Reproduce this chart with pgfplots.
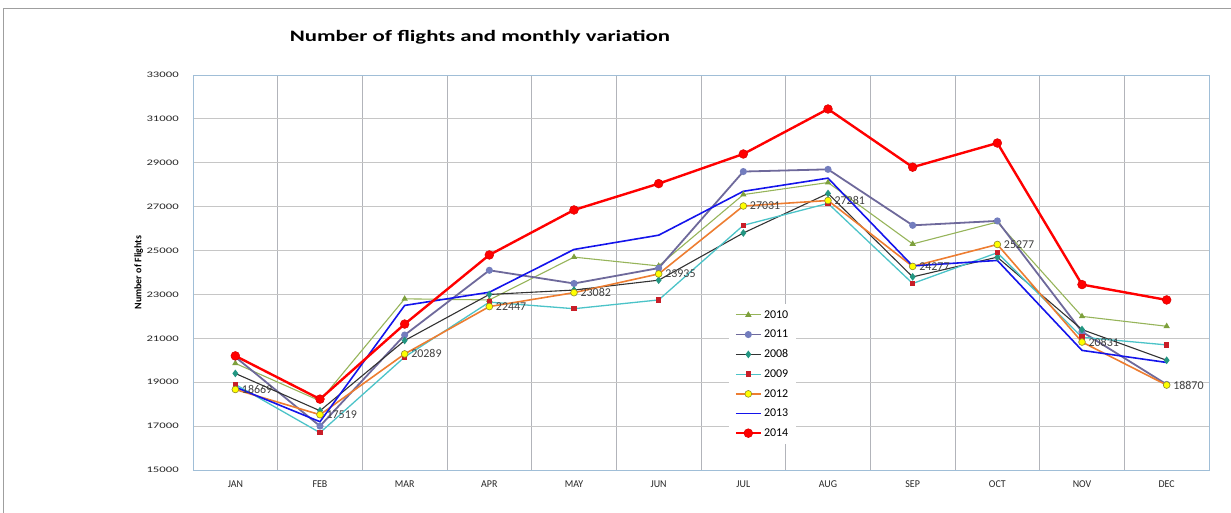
\documentclass[border=0pt]{standalone}
\usepackage{pgfplots}
\pgfplotsset{compat=1.18}
\usepackage{fontspec}
\setmainfont{Carlito}

\definecolor{c2010}{RGB}{150,180,90}
\definecolor{c2010m}{RGB}{125,160,60}
\definecolor{c2011}{RGB}{110,105,155}
\definecolor{c2011m}{RGB}{115,125,190}
\definecolor{c2008}{RGB}{50,50,50}
\definecolor{c2008m}{RGB}{35,150,130}
\definecolor{c2009}{RGB}{75,195,200}
\definecolor{c2009m}{RGB}{200,30,40}
\definecolor{c2012}{RGB}{237,125,49}
\definecolor{c2012m}{RGB}{255,255,0}
\definecolor{c2013}{RGB}{20,20,235}
\definecolor{c2014}{RGB}{255,0,0}
\definecolor{gridh}{RGB}{198,198,198}
\definecolor{gridv}{RGB}{178,180,186}
\definecolor{frame}{RGB}{160,190,215}

\pgfplotstableread{
x y2010 y2011 y2008 y2009 y2012 y2013 y2014
0 19860 20150 19400 18900 18669 18780 20200
1 18150 17000 17700 16700 17519 17200 18230
2 22800 21150 20900 20150 20289 22500 21650
3 22750 24100 23000 22650 22447 23100 24800
4 24700 23500 23200 22350 23082 25050 26850
5 24300 24200 23650 22750 23935 25700 28050
6 27550 28600 25800 26150 27031 27700 29400
7 28100 28700 27600 27150 27281 28300 31450
8 25300 26150 23800 23500 24277 24300 28800
9 26300 26350 24700 24900 25277 24550 29900
10 22000 21300 21400 21050 20831 20450 23450
11 21550 18900 20000 20700 18870 19900 22750
}\flights

\begin{document}
\begin{tikzpicture}
\path[use as bounding box] (-193bp,-43bp) rectangle (1038bp,470bp);
\draw[gray!75, line width=1bp] (-189bp,-60bp) -- (-189bp,461bp) -- (1060bp,461bp);
\node[font=\bfseries\fontsize{16}{19}\selectfont, xscale=1.43] at (287bp,433bp) {Number of flights and monthly variation};
\begin{axis}[
  at={(0,0)}, anchor=south west,
  scale only axis, width=1016bp, height=395bp,
  xmin=-0.5, xmax=11.5, ymin=15000, ymax=33000,
  xtick={0,...,11},
  xticklabels={JAN,FEB,MAR,APR,MAY,JUN,JUL,AUG,SEP,OCT,NOV,DEC},
  minor xtick={0.5,1.5,...,10.5},
  ytick={15000,17000,...,33000},
  xminorgrids, ymajorgrids,
  minor grid style={draw=gridv, line width=0.8bp},
  major grid style={draw=gridh, line width=0.8bp},
  major tick length=0, minor tick length=0,
  axis line style={draw=frame, line width=0.8bp},
  /pgf/number format/assume math mode=true,
  /pgf/number format/1000 sep={},
  scaled y ticks=false,
  yticklabel style={font=\fontsize{8.5}{10}\selectfont, xscale=1.5, text=black!85, xshift=-6bp},
  xticklabel style={font=\fontsize{10.5}{12}\selectfont, xscale=0.95, text=black!85, yshift=-7bp},
  ylabel={Number of Flights},
  ylabel style={font=\bfseries\fontsize{10}{12}\selectfont, yshift=-5bp},
  legend cell align=left,
  legend style={at={(0.527,0.42)}, anchor=north west, draw=none, fill=white,
    font=\fontsize{12}{14}\selectfont, row sep=6.4bp, inner xsep=6bp, inner ysep=4bp},
  legend image code/.code={\draw[mark repeat=2,mark phase=2,#1] plot coordinates {(0bp,0bp) (12.5bp,0bp) (25bp,0bp)};},
]
\addplot[c2010, line width=1.1bp, mark=triangle*, mark size=2.6bp, mark options={fill=c2010m, draw=c2010m}] table[x=x,y=y2010] {\flights};
\addlegendentry{2010}
\addplot[c2011, line width=1.8bp, mark=*, mark size=2.6bp, mark options={fill=c2011m, draw=c2011m}] table[x=x,y=y2011] {\flights};
\addlegendentry{2011}
\addplot[c2008, line width=1.1bp, mark=diamond*, mark size=3bp, mark options={fill=c2008m, draw=c2008m}] table[x=x,y=y2008] {\flights};
\addlegendentry{2008}
\addplot[c2009, line width=1.3bp, mark=square*, mark size=2.1bp, mark options={fill=c2009m, draw=c2009m}] table[x=x,y=y2009] {\flights};
\addlegendentry{2009}
\addplot[c2012, line width=1.6bp, mark=*, mark size=3.4bp, mark options={fill=c2012m, draw=olive!70!gray, line width=0.6bp},
  nodes near coords, point meta=y,
  nodes near coords style={anchor=west, xshift=3bp, font=\fontsize{12}{14}\selectfont, text=black!75,
    /pgf/number format/fixed, /pgf/number format/1000 sep={}, /pgf/number format/precision=0}] table[x=x,y=y2012] {\flights};
\addlegendentry{2012}
\addplot[c2013, line width=1.6bp, mark=none] table[x=x,y=y2013] {\flights};
\addlegendentry{2013}
\addplot[c2014, line width=2.4bp, mark=*, mark size=4.4bp, mark options={fill=c2014, draw=c2014!85!black, line width=0.5bp}] table[x=x,y=y2014] {\flights};
\addlegendentry{2014}
\end{axis}
\end{tikzpicture}
\end{document}
